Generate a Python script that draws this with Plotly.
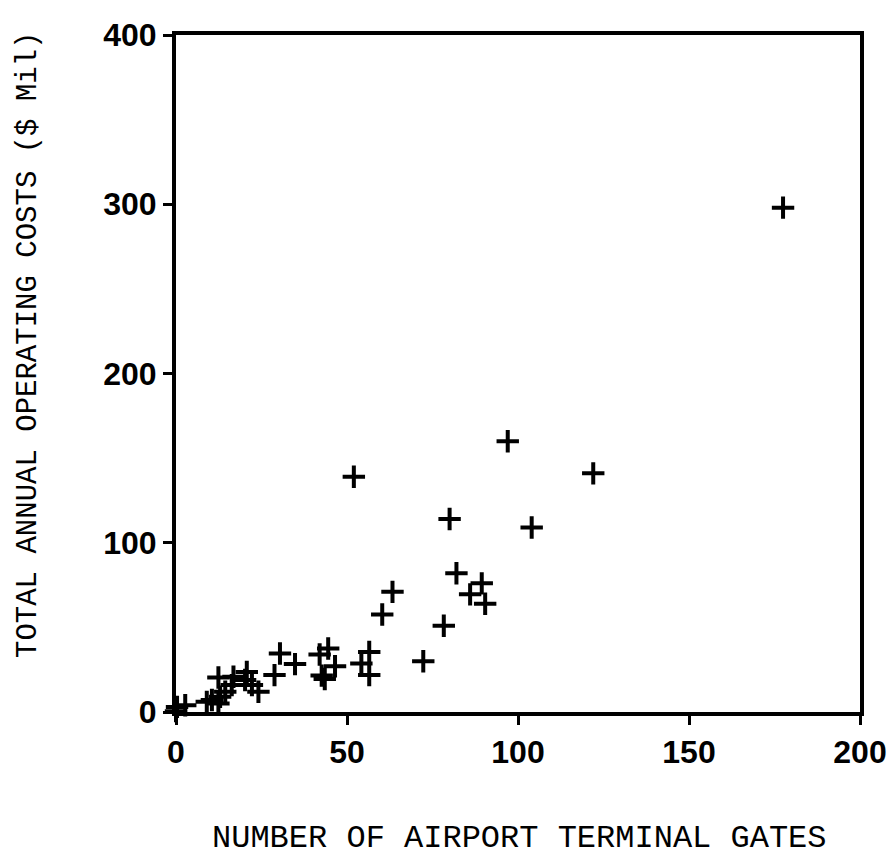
import plotly.graph_objects as go

gates = [177.5, 97, 52, 122, 80, 104, 82, 89.4, 86, 90.4,
         63.3, 60.3, 78.3, 72.3, 56.5, 54.2, 56.5, 46.5, 42, 44.5,
         42.6, 43.5, 34.8, 30.4, 28.8, 12.4, 16.8, 20.7, 20.2, 22.2,
         24.1, 16.3, 14.4, 12.9, 10.5, 9, 12.4, 0.3, 2.7, 0]
costs = [298, 160, 139, 141, 114, 109, 82, 76, 69.5, 64,
         71, 57.6, 51, 30, 35.5, 28.6, 21.8, 27, 34, 37.5,
         21.5, 19.5, 28.3, 34.6, 21.8, 20.4, 20.8, 23.7, 18.9, 15.9,
         12, 15.9, 12, 9, 7.1, 6, 5, 3, 4, 0.5]

x_ticks = [0, 50, 100, 150, 200]
y_ticks = [0, 100, 200, 300, 400]

fig = go.Figure()
fig.add_trace(go.Scatter(
    x=gates, y=costs, mode="markers",
    marker=dict(symbol="cross-thin", size=16, color="black",
                line=dict(width=4, color="black")),
    cliponaxis=False, showlegend=False,
))

axis_common = dict(
    showgrid=False, zeroline=False, showline=True, linecolor="black",
    linewidth=4, mirror=True, ticks="outside", ticklen=9, tickwidth=3,
    tickcolor="black", automargin=False,
    tickfont=dict(family="Liberation Sans", size=32, color="black", weight="bold"),
)
fig.update_xaxes(range=[0, 200], tickvals=x_ticks,
                 ticktext=[str(v) for v in x_ticks], **axis_common)
fig.update_yaxes(range=[0, 400], tickvals=y_ticks,
                 ticktext=[str(v) for v in y_ticks], **axis_common)

fig.update_layout(
    template="none",
    width=880, height=850,
    margin=dict(l=168, r=28, t=27, b=146),
    plot_bgcolor="white", paper_bgcolor="white",
    annotations=[
        dict(text="NUMBER OF AIRPORT TERMINAL GATES", xref="paper", yref="paper",
             x=(519 - 176) / 684, y=(712 - 838) / 677, xanchor="center", yanchor="middle",
             showarrow=False, font=dict(family="Liberation Mono", size=32, color="black")),
        dict(text="TOTAL ANNUAL OPERATING COSTS ($ Mil)", xref="paper", yref="paper",
             x=(28 - 176) / 684, y=(712 - 345) / 677, xanchor="center", yanchor="middle",
             textangle=-90, showarrow=False,
             font=dict(family="Liberation Mono", size=29, color="black")),
    ],
)

fig.write_html("out.html")
